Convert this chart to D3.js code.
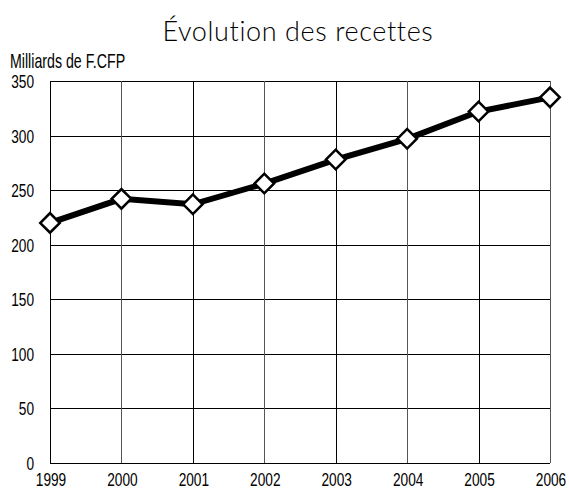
<!DOCTYPE html>
<html>
<head>
<meta charset="utf-8">
<script src="https://cdn.jsdelivr.net/npm/d3@7"></script>
<style>
  body { margin: 0; background: #fff; }
  text { font-family: "Liberation Sans", Arial, sans-serif; fill: #000; }
  .title { font-family: "Lato", "Noto Sans", sans-serif; font-weight: 300; }
</style>
</head>
<body>
<div id="chart"></div>
<script>
// data
var years = ["1999", "2000", "2001", "2002", "2003", "2004", "2005", "2006"];
var recettes = [220, 242, 237, 256, 278, 297, 322, 335];
var yTicks = [0, 50, 100, 150, 200, 250, 300, 350];

var width = 569, height = 489;
var margin = {top: 81, right: 19, bottom: 26, left: 50};
var plotW = width - margin.left - margin.right,
    plotH = height - margin.top - margin.bottom;
var narrow = 0.74; // condensed look, no narrow font installed

var svg = d3.select('#chart').append('svg')
    .attr('width', width)
    .attr('height', height);

var x = d3.scalePoint()
    .domain(years)
    .range([0, plotW]);

var y = d3.scaleLinear()
    .domain([0, 350])
    .range([plotH, 0]);

var g = svg.append('g')
    .attr('transform', 'translate(' + margin.left + ',' + margin.top + ')');

// grid
g.selectAll('.hgrid')
    .data(yTicks)
    .enter().append('line')
    .attr('x1', 0).attr('x2', plotW)
    .attr('y1', function (d) { return Math.round(y(d)) + 0.5; })
    .attr('y2', function (d) { return Math.round(y(d)) + 0.5; })
    .attr('stroke', '#000').attr('stroke-width', 1);

g.selectAll('.vgrid')
    .data(years)
    .enter().append('line')
    .attr('x1', function (d) { return Math.round(x(d)) + 0.5; })
    .attr('x2', function (d) { return Math.round(x(d)) + 0.5; })
    .attr('y1', 0).attr('y2', plotH)
    .attr('stroke', function (d, i) { return i % 2 ? '#555' : '#000'; })
    .attr('stroke-width', 1);

// y labels
g.selectAll('.ylab')
    .data(yTicks)
    .enter().append('text')
    .attr('transform', function (d) {
        return 'translate(-16,' + (y(d) + 7) + ') scale(' + narrow + ',1)';
    })
    .attr('text-anchor', 'end')
    .attr('font-size', 18.5)
    .text(function (d) { return d; });

// x labels
g.selectAll('.xlab')
    .data(years)
    .enter().append('text')
    .attr('transform', function (d) {
        return 'translate(' + (x(d) + 1) + ',' + (plotH + 23) + ') scale(' + narrow + ',1)';
    })
    .attr('text-anchor', 'middle')
    .attr('font-size', 18.5)
    .text(function (d) { return d; });

// line
var line = d3.line()
    .x(function (d, i) { return x(years[i]); })
    .y(function (d) { return y(d); });

g.append('path')
    .datum(recettes)
    .attr('d', line)
    .attr('fill', 'none')
    .attr('stroke', '#000')
    .attr('stroke-width', 6);

// diamond markers
var sym = d3.symbol().type(d3.symbolSquare).size(190);
g.selectAll('.pt')
    .data(recettes)
    .enter().append('path')
    .attr('d', sym)
    .attr('transform', function (d, i) {
        return 'translate(' + x(years[i]) + ',' + y(d) + ') rotate(45)';
    })
    .attr('fill', '#fff')
    .attr('stroke', '#000')
    .attr('stroke-width', 2.5);

// titles
svg.append('text')
    .attr('class', 'title')
    .attr('x', 298)
    .attr('y', 41)
    .attr('text-anchor', 'middle')
    .attr('font-size', 27)
    .attr('letter-spacing', 0.6)
    .text('Évolution des recettes');

svg.append('text')
    .attr('transform', 'translate(10,68) scale(0.71,1)')
    .attr('font-size', 20)
    .text('Milliards de F.CFP');
</script>
</body>
</html>
